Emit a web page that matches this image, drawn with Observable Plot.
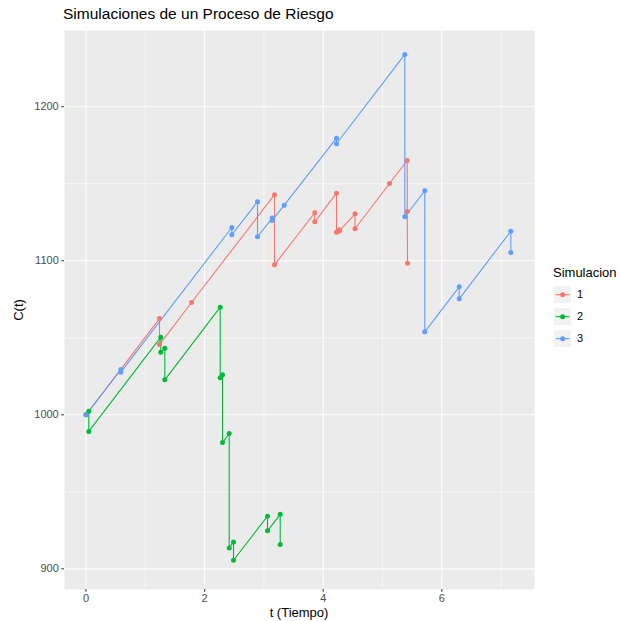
<!DOCTYPE html>
<html>
<head>
<meta charset="utf-8">
<script src="https://cdn.jsdelivr.net/npm/d3@7"></script>
<script src="https://cdn.jsdelivr.net/npm/@observablehq/plot@0.6"></script>
<style>
  html, body { margin: 0; padding: 0; background: #fff; }
  #wrap { position: relative; width: 620px; height: 621px; font-family: "Liberation Sans", Arial, Helvetica, sans-serif; }
  .ov { position: absolute; white-space: nowrap; line-height: 1; }
</style>
</head>
<body>
<div id="wrap"></div>
<script>
// ---- data ----
const simNames = ["1", "2", "3"];
const simColors = ["#F8766D", "#00BA38", "#619CFF"];

const t1 = [0, 1.239, 1.239, 1.779, 3.179, 3.179, 3.858, 3.858, 4.224, 4.224, 4.275, 4.275, 4.536, 4.536, 5.119, 5.417, 5.417, 5.422];
const c1 = [1000, 1062.5, 1045.6, 1072.9, 1142.9, 1097.4, 1131.2, 1125.3, 1143.9, 1118.6, 1120.1, 1119.4, 1130.5, 1120.8, 1150.2, 1165.1, 1132.0, 1098.4];

const t2 = [0, 0.047, 0.047, 1.261, 1.261, 1.329, 1.329, 2.263, 2.263, 2.302, 2.302, 2.415, 2.415, 2.487, 2.487, 3.061, 3.061, 3.275, 3.275];
const c2 = [1000, 1002.4, 989.2, 1050.4, 1040.6, 1043.2, 1022.7, 1069.9, 1024.0, 1026.0, 982.0, 987.9, 913.6, 917.5, 905.6, 934.2, 924.7, 935.4, 915.8];

const t3 = [0, 0.587, 0.587, 2.459, 2.459, 2.892, 2.892, 3.140, 3.140, 3.342, 4.224, 4.224, 5.376, 5.376, 5.713, 5.713, 6.293, 6.293, 7.164, 7.164];
const c3 = [1000, 1029.4, 1027.7, 1121.6, 1116.9, 1138.3, 1115.6, 1127.7, 1126.2, 1136.1, 1179.6, 1176.0, 1234.0, 1128.6, 1145.4, 1053.9, 1083.1, 1075.3, 1119.2, 1105.4];

const xMajor = [0, 2, 4, 6];
const xMinor = [1, 3, 5, 7];
const yMajor = [900, 1000, 1100, 1200];
const yMinor = [950, 1050, 1150];

const titleText = "Simulaciones de un Proceso de Riesgo";
const xTitle = "t (Tiempo)";
const yTitle = "C(t)";
const legendTitle = "Simulacion";

// ---- build table ----
const series = [[t1, c1], [t2, c2], [t3, c3]];
const rows = [];
series.forEach(([ts, cs], k) => {
  ts.forEach((t, i) => rows.push({sim: simNames[k], t, c: cs[i], i}));
});

const W = 620, H = 621;
const mL = 64, mR = 86, mT = 30, mB = 32;

const chart = Plot.plot({
  width: W, height: H,
  marginLeft: mL, marginRight: mR, marginTop: mT, marginBottom: mB,
  style: {fontFamily: '"Liberation Sans", Arial, Helvetica, sans-serif', fontSize: "11px", background: "#fff", overflow: "visible"},
  x: {domain: [-0.363, 7.563]},
  y: {domain: [886.6, 1249.5]},
  color: {domain: simNames, range: simColors},
  marks: [
    Plot.frame({fill: "#EBEBEB", stroke: null}),
    Plot.ruleX(xMinor, {stroke: "#fff", strokeWidth: 0.55, strokeOpacity: 1}),
    Plot.ruleY(yMinor, {stroke: "#fff", strokeWidth: 0.55, strokeOpacity: 1}),
    Plot.ruleX(xMajor, {stroke: "#fff", strokeWidth: 1.1, strokeOpacity: 1}),
    Plot.ruleY(yMajor, {stroke: "#fff", strokeWidth: 1.1, strokeOpacity: 1}),
    Plot.axisX(xMajor, {tickSize: 2.75, tickPadding: 2, stroke: "#333", fill: "#4D4D4D", fontSize: 11, label: null, tickFormat: d => String(d)}),
    Plot.axisY(yMajor, {tickSize: 2.75, tickPadding: 3, stroke: "#333", fill: "#4D4D4D", fontSize: 11, label: null, tickFormat: d => String(d)}),
    Plot.line(rows, {x: "t", y: "c", z: "sim", stroke: "sim", strokeWidth: 1.1, curve: "linear"}),
    Plot.dot(rows, {x: "t", y: "c", fill: "sim", r: 2.5, stroke: null})
  ]
});

const wrap = document.getElementById("wrap");
wrap.appendChild(chart);
chart.style.position = "absolute";
chart.style.left = "0px";
chart.style.top = "0px";

function ov(text, css) {
  const d = document.createElement("div");
  d.className = "ov";
  d.textContent = text;
  Object.assign(d.style, css);
  wrap.appendChild(d);
  return d;
}

ov(titleText, {left: "63px", top: "6px", fontSize: "15.5px", color: "#000"});
ov(xTitle, {left: (mL + (W - mL - mR) / 2) + "px", top: "606px", fontSize: "13px", color: "#000", transform: "translateX(-50%)"});
ov(yTitle, {left: "18px", top: (mT + (H - mT - mB) / 2) + "px", fontSize: "13px", color: "#000", transform: "translate(-50%,-50%) rotate(-90deg)"});

// legend
ov(legendTitle, {left: "553px", top: "266px", fontSize: "13px", color: "#000"});
const keyY = [286, 308, 330];
simNames.forEach((n, k) => {
  const key = document.createElementNS("http://www.w3.org/2000/svg", "svg");
  key.setAttribute("width", 17.3);
  key.setAttribute("height", 17.3);
  key.style.position = "absolute";
  key.style.left = "554px";
  key.style.top = keyY[k] + "px";
  key.innerHTML = `<rect width="17.3" height="17.3" fill="#F2F2F2"/>` +
    `<line x1="1.7" x2="15.6" y1="8.65" y2="8.65" stroke="${simColors[k]}" stroke-width="1.1"/>` +
    `<circle cx="8.65" cy="8.65" r="2.5" fill="${simColors[k]}"/>`;
  wrap.appendChild(key);
  ov(n, {left: "577px", top: (keyY[k] + 3) + "px", fontSize: "11px", color: "#000"});
});
</script>
</body>
</html>
